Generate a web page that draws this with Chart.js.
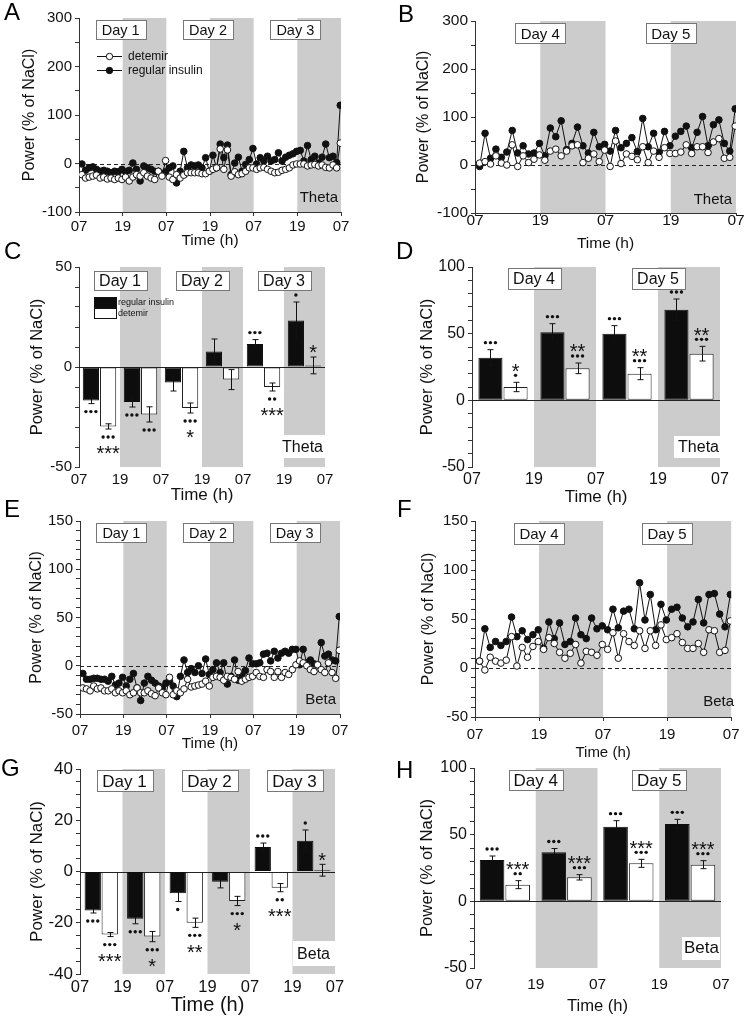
<!DOCTYPE html>
<html lang="en">
<head>
  <meta charset="UTF-8">
  <title>Theta and beta power, regular insulin vs detemir</title>
  <script src="https://cdn.jsdelivr.net/npm/chart.js@4"></script>
  <style>
    body { margin: 0; background: #fff; font-family: "Liberation Sans", Arial, sans-serif; }
    #fig { position: relative; width: 744px; height: 1019px; overflow: hidden; background: #fff; }
    canvas { position: absolute; }
    .letter { position: absolute; font-size: 24px; line-height: 24px; color: #000; }
  </style>
</head>
<body>
<div id="fig">
  <canvas id="cA" width="372" height="256" style="left:0;top:0"></canvas>
  <canvas id="cB" width="372" height="256" style="left:372px;top:0"></canvas>
  <canvas id="cC" width="372" height="260" style="left:0;top:250px"></canvas>
  <canvas id="cD" width="372" height="260" style="left:372px;top:250px"></canvas>
  <canvas id="cE" width="372" height="256" style="left:0;top:505px"></canvas>
  <canvas id="cF" width="372" height="262" style="left:372px;top:505px"></canvas>
  <canvas id="cG" width="372" height="264" style="left:0;top:755px"></canvas>
  <canvas id="cH" width="372" height="264" style="left:372px;top:755px"></canvas>
  <div class="letter" style="left:4px;top:0">A</div>
  <div class="letter" style="left:398px;top:2px">B</div>
  <div class="letter" style="left:4px;top:239px">C</div>
  <div class="letter" style="left:396px;top:239px">D</div>
  <div class="letter" style="left:4px;top:497px">E</div>
  <div class="letter" style="left:397px;top:497px">F</div>
  <div class="letter" style="left:1px;top:756px">G</div>
  <div class="letter" style="left:396px;top:758px">H</div>
</div>

<script>
// ---- data ----
const timeLabels = ['07', '19', '07', '19', '07', '19', '07'];
const days13 = ['Day 1', 'Day 2', 'Day 3'];
const days45 = ['Day 4', 'Day 5'];
const periods13 = ['D1 light', 'D1 dark', 'D2 light', 'D2 dark', 'D3 light', 'D3 dark'];
const periods45 = ['D4 light', 'D4 dark', 'D5 light', 'D5 dark'];
const seriesNames = ['regular insulin', 'detemir'];

// hourly theta power, days 1-3 (A)
const thetaRegA = [-1,-14,-9,-7,-12,-16,-14,-16,-19,-16,-17,-12,
  -17,-14,1,-12,-36,-5,-9,-12,-16,-16,-23,-17,
  -9,-5,-40,-16,25,-9,-3,-5,-3,-9,12,-16,
  17,-9,40,12,38,-23,1,13,-16,-2,8,31,
  -1,12,5,15,5,8,22,5,13,17,20,25,
  27,5,37,8,15,1,13,40,12,15,2,120];
const thetaDetA = [-23,-30,-28,-26,-24,-30,-28,-32,-30,-33,-30,-33,
  -28,-36,-28,-23,-26,-19,-26,-30,-33,-16,-26,6,
  -28,-33,-23,-30,-24,-19,-19,-19,-19,-21,-21,-16,
  -12,-9,30,-12,28,-26,-17,-23,-21,-16,-9,-9,
  -12,-9,-8,-12,-16,-19,-18,-14,-12,-9,-3,-1,
  -1,-1,-5,-3,-2,-5,-3,-8,-9,-3,-9,42];

// hourly theta power, days 4-5 (B)
const thetaRegB = [-3,66,14,33,16,27,72,25,40,23,25,45,
  19,77,59,92,32,45,79,40,25,68,38,43,
  29,72,36,45,57,28,97,38,66,26,70,40,
  60,70,81,36,68,101,40,84,94,45,29,117];
const thetaDetB = [4,7,2,19,4,0,42,-3,19,5,12,21,
  10,29,33,19,29,40,42,5,14,23,7,31,
  -3,50,3,23,18,11,38,5,29,16,36,24,
  24,27,42,24,38,38,26,48,55,14,16,81];

// hourly beta power, days 1-3 (E)
const betaRegE = [-8,-14,-14,-13,-13,-14,-14,-16,-11,-20,-18,-12,
  -21,-14,-8,-23,-36,-18,-11,-15,-18,-21,-23,-18,
  -16,-21,-32,-11,6,-7,-3,-7,0,-8,7,-9,
  -4,3,-7,3,-19,-11,6,-15,-9,-5,8,2,
  2,3,12,13,5,15,8,13,15,13,17,17,
  1,17,3,6,2,1,24,10,12,6,5,51];
const betaDetE = [-23,-24,-26,-21,-24,-23,-26,-26,-24,-28,-26,-28,
  -26,-30,-28,-23,-28,-28,-26,-29,-31,-23,-28,-30,
  -12,-30,-26,-28,-24,-14,-22,-21,-20,-19,-16,-21,
  -12,-11,-12,-15,-11,-12,-14,-6,-16,-14,-12,-11,
  -7,-11,-12,-4,-6,-12,-6,-12,-7,-9,-4,1,
  5,3,0,-4,-6,1,-4,-7,3,-7,-13,16];

// hourly beta power, days 4-5 (F)
const betaRegF = [7,40,21,27,23,27,52,32,38,29,34,39,
  20,47,30,46,24,27,51,34,30,51,40,43,
  39,60,41,58,60,40,87,49,75,39,65,49,
  60,62,51,42,47,70,46,75,76,55,42,75];
const betaDetF = [7,-2,11,7,5,8,32,2,21,11,22,27,
  19,31,25,16,10,15,24,5,17,16,13,24,
  19,36,10,35,27,23,38,20,38,23,44,29,
  31,35,26,20,20,25,16,39,38,16,18,48];

// 12 h means, theta days 1-3 (C)
const thetaRegC = [-16.7, -17.5, -7.7, 7.8, 11.5, 23.2];
const thetaRegCErr = [1.6, 2.5, 4.3, 6.2, 2.2, 9.3];
const thetaDetC = [-29.7, -23.7, -20.5, -6.3, -10, 0.8];
const thetaDetCErr = [1.3, 3.8, 2.5, 5, 2, 4.2];
const thetaRegCDots = [3, 3, 0, 0, 3, 1];
const thetaDetCDots = [3, 3, 3, 0, 2, 0];
const thetaDetCStars = [3, 0, 1, 0, 3, 1];

// 12 h means, theta days 4-5 (D)
const thetaRegD = [32, 51, 50, 68];
const thetaRegDErr = [6, 6.5, 6, 8];
const thetaDetD = [10, 24, 20, 35];
const thetaDetDErr = [3.5, 4, 4.5, 5.5];
const thetaRegDDots = [3, 3, 3, 3];
const thetaDetDDots = [1, 3, 3, 3];
const thetaDetDStars = [1, 2, 2, 2];

// 12 h means, beta days 1-3 (G)
const betaRegG = [-15.2, -18.4, -8.5, -4, 9.6, 12];
const betaRegGErr = [1, 2, 3.2, 2.4, 1.5, 4.2];
const betaDetG = [-24.6, -25.4, -20, -11.5, -6.3, 0.5];
const betaDetGErr = [0.8, 2, 1.8, 1.8, 1.6, 2.3];
const betaRegGDots = [3, 3, 1, 0, 3, 1];
const betaDetGDots = [3, 3, 3, 3, 2, 0];
const betaDetGStars = [3, 1, 2, 1, 3, 1];

// 12 h means, beta days 4-5 (H)
const betaRegH = [31, 36.8, 56, 58];
const betaRegHErr = [3, 2.8, 4.5, 3.5];
const betaDetH = [12.5, 18, 28.5, 27.5];
const betaDetHErr = [3, 2, 3, 3];
const betaRegHDots = [3, 3, 3, 3];
const betaDetHDots = [2, 3, 3, 3];
const betaDetHStars = [3, 3, 3, 3];

// night (dark phase) bands
const nightHours3 = [[12, 24], [36, 48], [60, 72]];
const nightHours2 = [[12, 24], [36, 48]];
const nightPeriods3 = [[1, 2], [3, 4], [5, 6]];
const nightPeriods2 = [[1, 2], [3, 4]];

// hour positions of the hourly points
const hours3 = thetaRegA.map((_, i) => i + 0.8);
const hours2 = thetaRegB.map((_, i) => i + 0.85);

// ---- drawing ----
const FAMILY = '"Liberation Sans", Arial, Helvetica, sans-serif';
Chart.defaults.font.family = FAMILY;
Chart.defaults.color = '#111';
const font = s => s + 'px ' + FAMILY;

function drawErrors(chart, errs) {
  const ctx = chart.ctx, ys = chart.scales.y;
  ctx.strokeStyle = '#111';
  ctx.lineWidth = 1;
  errs.forEach((err, d) => {
    const vals = chart.data.datasets[d].data;
    chart.getDatasetMeta(d).data.forEach((bar, i) => {
      const y1 = ys.getPixelForValue(vals[i] - err[i]);
      const y2 = ys.getPixelForValue(vals[i] + err[i]);
      const x = Math.round(bar.x) + 0.5;
      ctx.beginPath();
      ctx.moveTo(x, y1); ctx.lineTo(x, y2);
      ctx.moveTo(x - 3, y1); ctx.lineTo(x + 3, y1);
      ctx.moveTo(x - 3, y2); ctx.lineTo(x + 3, y2);
      ctx.stroke();
    });
  });
}

function drawSig(chart, p) {
  const ctx = chart.ctx, ys = chart.scales.y;
  ctx.fillStyle = '#111';
  p.sig.forEach((s, d) => {
    const vals = chart.data.datasets[d].data;
    chart.getDatasetMeta(d).data.forEach((bar, i) => {
      const v = vals[i], e = p.err[d][i];
      const up = v >= 0;
      const edge = ys.getPixelForValue(up ? v + e : v - e);
      const dir = up ? -1 : 1;
      const nd = s.dots ? s.dots[i] : 0;
      const ns = s.stars ? s.stars[i] : 0;
      if (nd) {
        const cy = edge + dir * (up ? 7 : 8);
        for (let k = 0; k < nd; k++) {
          ctx.beginPath();
          ctx.arc(bar.x + (k - (nd - 1) / 2) * 5, cy, 1.7, 0, Math.PI * 2);
          ctx.fill();
        }
      }
      if (ns) {
        const cy = edge + dir * (nd ? (up ? 16 : 20) : 9);
        ctx.font = font(p.starSize);
        ctx.textAlign = 'center';
        ctx.textBaseline = 'alphabetic';
        ctx.fillText('*'.repeat(ns), bar.x, cy + 0.57 * p.starSize);
      }
    });
  });
}

function decor(p) {
  return {
    id: 'decor',
    beforeDraw(chart) {
      const { ctx, chartArea: a } = chart;
      const xs = chart.scales[p.bandAxis];
      ctx.save();
      ctx.fillStyle = '#cccccc';
      p.bands.forEach(b => {
        const x1 = xs.getPixelForValue(b[0]), x2 = xs.getPixelForValue(b[1]);
        ctx.fillRect(x1, a.top, x2 - x1, a.bottom - a.top);
      });
      ctx.restore();
    },
    beforeDatasetsDraw(chart) {
      const { ctx, chartArea: a } = chart;
      const y0 = Math.round(chart.scales.y.getPixelForValue(0)) + 0.5;
      ctx.save();
      ctx.strokeStyle = '#222';
      ctx.lineWidth = 1;
      if (p.dashed) ctx.setLineDash([4, 3]);
      ctx.beginPath(); ctx.moveTo(a.left, y0); ctx.lineTo(a.right, y0); ctx.stroke();
      ctx.restore();
    },
    afterDatasetsDraw(chart) {
      const ctx = chart.ctx;
      const xs = chart.scales[p.bandAxis];
      ctx.save();

      // day boxes
      const d = p.days;
      ctx.font = font(d.size);
      ctx.textAlign = 'center';
      ctx.textBaseline = 'middle';
      d.at.forEach((h, i) => {
        const cx = xs.getPixelForValue(h) + d.shift;
        const x = Math.round(cx - d.w / 2) + 0.5, y = d.top + 0.5;
        ctx.fillStyle = '#fff'; ctx.fillRect(x, y, d.w, d.h);
        ctx.strokeStyle = '#777'; ctx.lineWidth = 1; ctx.strokeRect(x, y, d.w, d.h);
        ctx.fillStyle = '#111'; ctx.fillText(d.names[i], cx, y + d.h / 2 + 1);
      });

      // band name
      const t = p.tag;
      if (t.box) {
        ctx.fillStyle = '#fff';
        ctx.fillRect(t.box[0], t.box[1], t.box[2] - t.box[0], t.box[3] - t.box[1]);
      }
      ctx.font = font(t.size);
      ctx.textAlign = 'right';
      ctx.fillStyle = '#111';
      ctx.fillText(t.text, t.right, t.cy);

      // legends
      if (p.lineLegend) {
        const L = p.lineLegend;
        L.rows.forEach(r => {
          const ds = chart.data.datasets[r.ds];
          ctx.strokeStyle = '#111'; ctx.lineWidth = 1;
          ctx.beginPath(); ctx.moveTo(L.x1, r.y + 0.5); ctx.lineTo(L.x2, r.y + 0.5); ctx.stroke();
          ctx.beginPath(); ctx.arc((L.x1 + L.x2) / 2, r.y + 0.5, 3.2, 0, Math.PI * 2);
          ctx.fillStyle = ds.pointBackgroundColor; ctx.fill(); ctx.stroke();
          ctx.fillStyle = '#111'; ctx.font = font(L.size); ctx.textAlign = 'left';
          ctx.fillText(ds.label, L.tx, r.y + 1);
        });
      }
      if (p.boxLegend) {
        const L = p.boxLegend;
        L.rows.forEach(r => {
          const ds = chart.data.datasets[r.ds];
          ctx.fillStyle = ds.backgroundColor;
          ctx.fillRect(L.x + 0.5, r.y + 0.5, L.w, L.h);
          ctx.strokeStyle = '#111'; ctx.lineWidth = 1;
          ctx.strokeRect(L.x + 0.5, r.y + 0.5, L.w, L.h);
          ctx.fillStyle = '#111'; ctx.font = font(L.size); ctx.textAlign = 'left';
          ctx.fillText(ds.label, L.tx, r.y + L.h / 2 + 1);
        });
      }

      // error bars and significance marks on top
      if (p.err) drawErrors(chart, p.err);
      if (p.sig) drawSig(chart, p);
      ctx.restore();
    }
  };
}

function yScale(c) {
  return {
    type: 'linear', min: c.yMin, max: c.yMax,
    afterFit: s => { s.width = c.yW; },
    ticks: { stepSize: c.yStep, autoSkip: false, padding: 3, font: { size: c.yTick }, color: '#111',
      callback: v => (c.yLabels.includes(v) ? String(v) : '') },
    grid: { drawOnChartArea: false, tickLength: 4, color: '#333' },
    border: { color: '#333', width: 1 },
    title: { display: true, text: 'Power (% of NaCl)', padding: 0, font: { size: c.yTitle }, color: '#111' }
  };
}

function lineDataset(label, vals, hours, fill) {
  return {
    label, data: vals.map((v, i) => ({ x: hours[i], y: v })),
    borderColor: '#111', borderWidth: 1, tension: 0,
    pointRadius: 3.3, pointHoverRadius: 3.3, pointBorderWidth: 1,
    pointBackgroundColor: fill, pointBorderColor: '#111',
    xAxisID: 'x', yAxisID: 'y'
  };
}

function linePanel(id, c) {
  new Chart(document.getElementById(id), {
    type: 'line',
    data: { datasets: [
      lineDataset(seriesNames[1], c.det, c.hours, '#ffffff'),
      lineDataset(seriesNames[0], c.reg, c.hours, '#111111')
    ] },
    options: {
      responsive: false, animation: false, devicePixelRatio: 1, events: [],
      layout: { padding: c.pad },
      plugins: { legend: { display: false }, tooltip: { enabled: false } },
      scales: {
        x: {
          type: 'linear', position: 'bottom', min: 0, max: c.span, offset: false,
          afterFit: s => { s.height = c.xH; },
          ticks: { stepSize: 12, autoSkip: false, maxRotation: 0, padding: c.xPad,
            font: { size: c.xTick }, color: '#111', callback: v => timeLabels[v / 12] },
          grid: { drawOnChartArea: false, tickLength: c.xTl, color: '#333', offset: false },
          border: { color: '#333', width: 1 },
          title: { display: true, text: 'Time (h)', padding: 0, font: { size: c.timeSize }, color: '#111' }
        },
        y: yScale(c)
      }
    },
    plugins: [decor(Object.assign({ bandAxis: 'x', dashed: true }, c.decor))]
  });
}

function barPanel(id, c) {
  const ds = (label, data, fill, edge) => ({
    label, data, backgroundColor: fill, borderColor: edge, borderWidth: 1, borderSkipped: false,
    categoryPercentage: c.catPct, barPercentage: c.barPct, xAxisID: 'x', yAxisID: 'y'
  });
  new Chart(document.getElementById(id), {
    type: 'bar',
    data: { labels: c.periods, datasets: [
      ds(seriesNames[0], c.reg, '#0d0d0d', '#0d0d0d'),
      ds(seriesNames[1], c.det, '#ffffff', '#222')
    ] },
    options: {
      responsive: false, animation: false, devicePixelRatio: 1, events: [],
      layout: { padding: c.pad },
      plugins: { legend: { display: false }, tooltip: { enabled: false } },
      scales: {
        x: { type: 'category', display: false, offset: true },
        xt: {
          type: 'linear', position: 'bottom', min: 0, max: c.periods.length, offset: false,
          afterFit: s => { s.height = c.xH; },
          ticks: { stepSize: 1, autoSkip: false, maxRotation: 0, padding: c.xPad,
            font: { size: c.xTick }, color: '#111', callback: v => timeLabels[v] },
          grid: { display: false, drawTicks: false, offset: false },
          border: { display: false },
          title: { display: true, text: 'Time (h)', padding: 0, font: { size: c.timeSize }, color: '#111' }
        },
        y: yScale(c)
      }
    },
    plugins: [decor(Object.assign({ bandAxis: 'xt', dashed: false }, c.decor))]
  });
}

linePanel('cA', {
  reg: thetaRegA, det: thetaDetA, hours: hours3, span: 72,
  pad: { left: 20.4, top: 18, right: 31, bottom: 5.7 }, yW: 58.6, xH: 38.3,
  yMin: -100, yMax: 300, yStep: 50, yLabels: [-100, 0, 100, 200, 300],
  yTick: 15, xTick: 15, xTl: 4, xPad: 1.5, timeSize: 15.5, yTitle: 16,
  decor: {
    bands: nightHours3,
    days: { at: [12, 36, 60], names: days13, shift: -2, top: 20, h: 19, w: 50, size: 14.5 },
    tag: { text: 'Theta', right: 338, cy: 198, size: 15 },
    lineLegend: { x1: 97, x2: 122, tx: 128, size: 12, rows: [{ ds: 0, y: 56 }, { ds: 1, y: 70 }] }
  }
});

linePanel('cB', {
  reg: thetaRegB, det: thetaDetB, hours: hours2, span: 48,
  pad: { left: 42.4, top: 21, right: 8, bottom: 2.7 }, yW: 60.6, xH: 40.3,
  yMin: -100, yMax: 300, yStep: 50, yLabels: [-100, 0, 100, 200, 300],
  yTick: 15.5, xTick: 15.5, xTl: 3, xPad: -5, timeSize: 15.5, yTitle: 16,
  decor: {
    bands: nightHours2,
    days: { at: [12, 36], names: days45, shift: 0, top: 23, h: 20, w: 50, size: 15 },
    tag: { text: 'Theta', right: 360, cy: 200, size: 15 }
  }
});

barPanel('cC', {
  periods: periods13, reg: thetaRegC, det: thetaDetC, catPct: 0.84, barPct: 0.94,
  pad: { left: 27.1, top: 17, right: 47, bottom: 4.8 }, yW: 51.9, xH: 38.2,
  yMin: -50, yMax: 50, yStep: 10, yLabels: [-50, 0, 50],
  yTick: 15, xTick: 15, xPad: 3.5, timeSize: 17, yTitle: 16.5,
  decor: {
    bands: nightPeriods3,
    err: [thetaRegCErr, thetaDetCErr],
    sig: [{ dots: thetaRegCDots }, { dots: thetaDetCDots, stars: thetaDetCStars }], starSize: 20,
    days: { at: [1, 3, 5], names: days13, shift: 0, top: 21, h: 19, w: 53, size: 16 },
    tag: { text: 'Theta', right: 323, cy: 198, size: 16, box: [284, 185, 325, 208] },
    boxLegend: { x: 94, w: 22, h: 10, tx: 118, size: 9, rows: [{ ds: 0, y: 47 }, { ds: 1, y: 58 }] }
  }
});

barPanel('cD', {
  periods: periods45, reg: thetaRegD, det: thetaDetD, catPct: 0.81, barPct: 0.96,
  pad: { left: 45.1, top: 17, right: 24, bottom: 2.8 }, yW: 54.9, xH: 40.2,
  yMin: -50, yMax: 100, yStep: 10, yLabels: [-50, 0, 50, 100],
  yTick: 16, xTick: 16, xPad: 3, timeSize: 17, yTitle: 16.5,
  decor: {
    bands: nightPeriods2,
    err: [thetaRegDErr, thetaDetDErr],
    sig: [{ dots: thetaRegDDots }, { dots: thetaDetDDots, stars: thetaDetDStars }], starSize: 20,
    days: { at: [1, 3], names: days45, shift: 0, top: 18, h: 21, w: 53, size: 16 },
    tag: { text: 'Theta', right: 347, cy: 198, size: 16, box: [302, 186, 348, 208] }
  }
});

linePanel('cE', {
  reg: betaRegE, det: betaDetE, hours: hours3, span: 72,
  pad: { left: 27.4, top: 16, right: 32, bottom: 7.8 }, yW: 52.6, xH: 39.2,
  yMin: -50, yMax: 150, yStep: 10, yLabels: [-50, 0, 50, 100, 150],
  yTick: 15, xTick: 15, xTl: 4, xPad: 3.5, timeSize: 15.3, yTitle: 16,
  decor: {
    bands: nightHours3,
    days: { at: [12, 36, 60], names: days13, shift: -2, top: 18, h: 19, w: 50, size: 14.5 },
    tag: { text: 'Beta', right: 336, cy: 195, size: 15 }
  }
});

linePanel('cF', {
  reg: betaRegF, det: betaDetF, hours: hours2, span: 48,
  pad: { left: 47.4, top: 16, right: 8, bottom: 5 }, yW: 55.6, xH: 45,
  yMin: -50, yMax: 150, yStep: 10, yLabels: [-50, 0, 50, 100, 150],
  yTick: 15, xTick: 15, xTl: 4, xPad: 4.5, timeSize: 15, yTitle: 16,
  decor: {
    bands: nightHours2,
    days: { at: [12, 36], names: days45, shift: 0, top: 18, h: 21, w: 50, size: 15 },
    tag: { text: 'Beta', right: 362, cy: 197, size: 15 }
  }
});

barPanel('cG', {
  periods: periods13, reg: betaRegG, det: betaDetG, catPct: 0.80, barPct: 0.96,
  pad: { left: 26.8, top: 14, right: 37, bottom: 2 }, yW: 53.2, xH: 43,
  yMin: -40, yMax: 40, yStep: 5, yLabels: [-40, -20, 0, 20, 40],
  yTick: 17, xTick: 16.5, xPad: 4, timeSize: 20, yTitle: 17,
  decor: {
    bands: nightPeriods3,
    err: [betaRegGErr, betaDetGErr],
    sig: [{ dots: betaRegGDots }, { dots: betaDetGDots, stars: betaDetGStars }], starSize: 20,
    days: { at: [1, 3, 5], names: days13, shift: 2, top: 15, h: 21, w: 56, size: 17 },
    tag: { text: 'Beta', right: 330, cy: 200, size: 16, box: [293, 186, 335, 211] }
  }
});

barPanel('cH', {
  periods: periods45, reg: betaRegH, det: betaDetH, catPct: 0.83, barPct: 0.96,
  pad: { left: 45, top: 13, right: 23, bottom: 3 }, yW: 57, xH: 48,
  yMin: -50, yMax: 100, yStep: 10, yLabels: [-50, 0, 50, 100],
  yTick: 16, xTick: 15.5, xPad: 7.5, timeSize: 16.6, yTitle: 16.7,
  decor: {
    bands: nightPeriods2,
    err: [betaRegHErr, betaDetHErr],
    sig: [{ dots: betaRegHDots }, { dots: betaDetHDots, stars: betaDetHStars }], starSize: 20,
    days: { at: [1, 3], names: days45, shift: 0, top: 15, h: 20, w: 54, size: 17 },
    tag: { text: 'Beta', right: 347, cy: 193, size: 17, box: [310, 182, 348, 205] }
  }
});
</script>
</body>
</html>
